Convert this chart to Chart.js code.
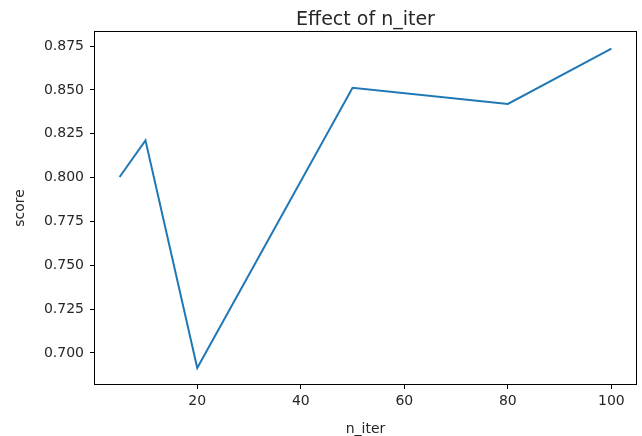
<!DOCTYPE html>
<html>
<head>
<meta charset="utf-8">
<script src="https://cdn.jsdelivr.net/npm/chart.js@4"></script>
<style>
  html, body { margin: 0; padding: 0; background: #fff; }
  canvas { display: block; }
</style>
</head>
<body>
<canvas id="effect" width="642" height="436"></canvas>
<script>
// values
var nIter = [5, 10, 20, 50, 80, 100];
var score = [0.8003, 0.8212, 0.6915, 0.8512, 0.8420, 0.8735];
var xTicks = [20, 40, 60, 80, 100];
var yTicks = [0.700, 0.725, 0.750, 0.775, 0.800, 0.825, 0.850, 0.875];
var titleText = 'Effect of n_iter';

var FONT = "'DejaVu Sans', sans-serif";
var TXT = '#262626';

var points = nIter.map(function(x, i) { return { x: x, y: score[i] }; });

// matplotlib-like frame and title drawn over the chart area
var framePlugin = {
    id: 'frame',
    afterDraw: function(chart) {
        var a = chart.chartArea;
        var c = chart.ctx;
        c.save();
        c.strokeStyle = '#000';
        c.lineWidth = 1;
        c.strokeRect(Math.round(a.left) - 0.5, Math.round(a.top) - 0.5,
                     Math.round(a.right - a.left) + 1, Math.round(a.bottom - a.top) + 1);
        c.fillStyle = TXT;
        c.font = '19px ' + FONT;
        c.textAlign = 'center';
        c.textBaseline = 'alphabetic';
        c.fillText(titleText, (a.left + a.right) / 2, a.top - 7);
        c.restore();
    }
};

var ctx = document.getElementById('effect').getContext('2d');
var chart = new Chart(ctx, {
    type: 'line',
    data: {
        datasets: [{
            data: points,
            borderColor: '#1f77b4',
            borderWidth: 2,
            pointRadius: 0,
            fill: false,
            tension: 0
        }]
    },
    plugins: [framePlugin],
    options: {
        responsive: false,
        animation: false,
        layout: { padding: { top: 32, right: 6, left: 0, bottom: 0 } },
        plugins: {
            legend: { display: false },
            tooltip: { enabled: false },
            title: { display: false }
        },
        scales: {
            x: {
                type: 'linear',
                min: 0.25,
                max: 104.75,
                afterBuildTicks: function(scale) {
                    scale.ticks = xTicks.map(function(v) { return { value: v }; });
                },
                afterFit: function(scale) { scale.height = 52; },
                border: { display: false },
                grid: { display: true, drawOnChartArea: false, tickLength: 5, color: '#000', tickColor: '#000' },
                ticks: {
                    color: TXT,
                    font: { family: FONT, size: 14 },
                    padding: 4,
                    maxRotation: 0,
                    callback: function(v) { return v; }
                },
                title: {
                    display: true,
                    text: 'n_iter',
                    color: TXT,
                    font: { family: FONT, size: 14 },
                    padding: { top: 0, bottom: -2 }
                }
            },
            y: {
                type: 'linear',
                min: 0.6823,
                max: 0.8830,
                afterBuildTicks: function(scale) {
                    scale.ticks = yTicks.map(function(v) { return { value: v }; });
                },
                afterFit: function(scale) { scale.width = 95; },
                border: { display: false },
                grid: { display: true, drawOnChartArea: false, tickLength: 5, color: '#000', tickColor: '#000' },
                ticks: {
                    color: TXT,
                    font: { family: FONT, size: 14 },
                    padding: 6,
                    callback: function(v) { return v.toFixed(3); }
                },
                title: {
                    display: true,
                    text: 'score',
                    color: TXT,
                    font: { family: FONT, size: 14 },
                    padding: { top: 12, bottom: 0 }
                }
            }
        }
    }
});
</script>
</body>
</html>
